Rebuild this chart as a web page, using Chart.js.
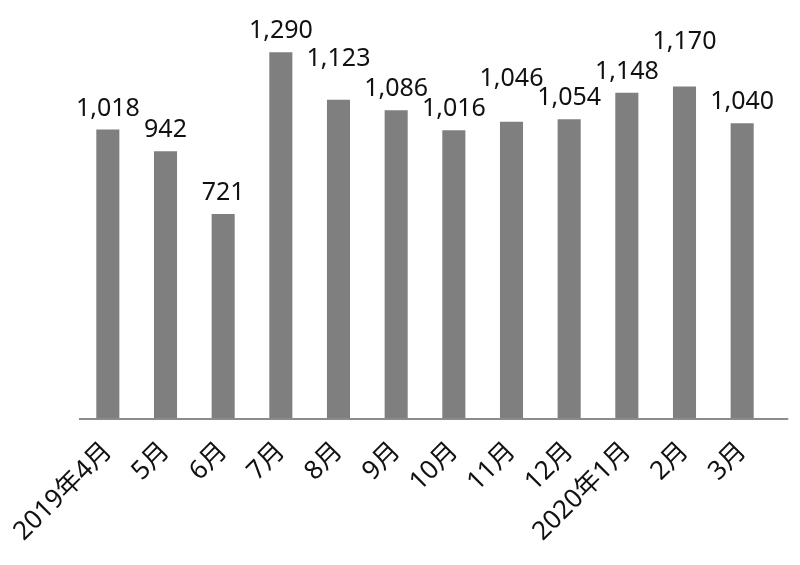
<!DOCTYPE html>
<html>
<head>
<meta charset="utf-8">
<script src="https://cdn.jsdelivr.net/npm/chart.js@4/dist/chart.umd.min.js"></script>
<style>
  html, body { margin: 0; padding: 0; background: #fff; }
  #wrap { width: 800px; height: 565px; position: relative; }
</style>
</head>
<body>
<div id="wrap"><canvas id="barChart"></canvas></div>
<script>
// Datos
const months = ['2019年4月', '5月', '6月', '7月', '8月', '9月', '10月', '11月', '12月', '2020年1月', '2月', '3月'];
const counts = [1018, 942, 721, 1290, 1123, 1086, 1016, 1046, 1054, 1148, 1170, 1040];
const yMin = 0;
const yMax = 1400;

const FONT = '"Noto Sans", "Noto Sans CJK JP", sans-serif';
const LABEL_SIZE = 25;

// Línea del eje x, algo más larga que el área de barras (como en el original)
const axisLine = {
  id: 'axisLine',
  afterDatasetsDraw(chart) {
    const { ctx, chartArea } = chart;
    const step = (chartArea.right - chartArea.left) / months.length;
    ctx.save();
    ctx.strokeStyle = '#8c8c8c';
    ctx.lineWidth = 2;
    ctx.beginPath();
    ctx.moveTo(chartArea.left, chartArea.bottom);
    ctx.lineTo(chartArea.right + step * 0.3, chartArea.bottom);
    ctx.stroke();
    ctx.restore();
  }
};

// Etiquetas de valor sobre cada barra; si chocan con la vecina, se sube la mayor
const valueLabels = {
  id: 'valueLabels',
  afterDatasetsDraw(chart) {
    const ctx = chart.ctx;
    const meta = chart.getDatasetMeta(0);
    const fmt = new Intl.NumberFormat('en-US');
    ctx.save();
    ctx.font = LABEL_SIZE + 'px ' + FONT;
    const h = LABEL_SIZE * 0.72;
    const gap = 14;
    const clear = 12;
    const boxes = meta.data.map((bar, i) => {
      const text = fmt.format(counts[i]);
      const w = ctx.measureText(text).width;
      return { text, x: bar.x, w, bottom: bar.y - gap, value: counts[i] };
    });
    const overlap = (a, b) => {
      const hx = Math.abs(a.x - b.x) < (a.w + b.w) / 2 + 2;
      const vy = a.bottom > b.bottom - h && b.bottom > a.bottom - h;
      return hx && vy;
    };
    for (let i = 1; i < boxes.length; i++) {
      const a = boxes[i - 1], b = boxes[i];
      if (overlap(a, b)) {
        if (b.value >= a.value) b.bottom = a.bottom - h - clear;
        else a.bottom = b.bottom - h - clear;
      }
    }
    ctx.fillStyle = '#111';
    ctx.textAlign = 'center';
    ctx.textBaseline = 'alphabetic';
    boxes.forEach(b => ctx.fillText(b.text, b.x, b.bottom));
    ctx.restore();
  }
};

const ctx = document.getElementById('barChart').getContext('2d');
const chart = new Chart(ctx, {
  type: 'bar',
  data: {
    labels: months,
    datasets: [{
      data: counts,
      backgroundColor: '#7f7f7f',
      borderWidth: 0,
      categoryPercentage: 1.0,
      barPercentage: 0.4
    }]
  },
  options: {
    responsive: true,
    maintainAspectRatio: false,
    animation: false,
    events: [],
    layout: {
      padding: { left: 79, right: 29, top: 21, bottom: 0 }
    },
    plugins: {
      legend: { display: false },
      tooltip: { enabled: false }
    },
    scales: {
      x: {
        grid: { display: false, drawTicks: false },
        border: { display: false },
        ticks: {
          autoSkip: false,
          maxRotation: 45,
          minRotation: 45,
          padding: 17,
          color: '#111',
          font: { family: FONT, size: 26 }
        },
        afterFit(scale) {
          // el área de barras la fija el padding del layout, no las etiquetas
          scale.height = 146;
          scale.paddingLeft = 0;
          scale.paddingRight = 0;
        }
      },
      y: {
        display: false,
        min: yMin,
        max: yMax
      }
    }
  },
  plugins: [axisLine, valueLabels]
});
</script>
</body>
</html>
